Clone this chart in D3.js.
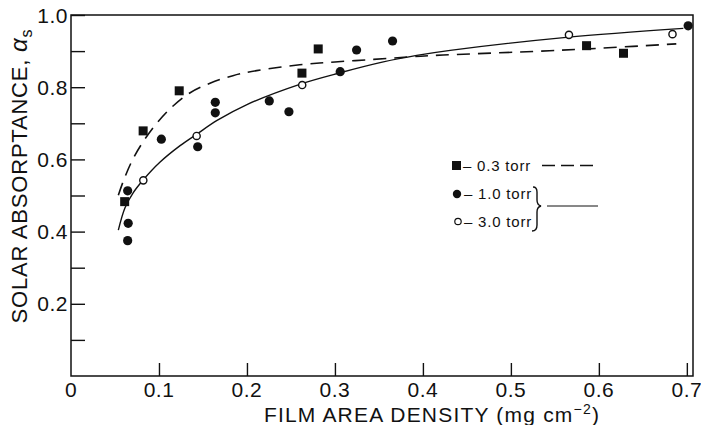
<!DOCTYPE html>
<html><head><meta charset="utf-8">
<script src="https://cdn.jsdelivr.net/npm/d3@7"></script>
<style>body{margin:0;background:#fff}svg{display:block}text{font-family:"Liberation Sans",Arial,sans-serif;fill:#111}</style>
</head><body><svg id="c" width="701" height="425"></svg>
<script>
// Data
const xTicks = [0, 0.1, 0.2, 0.3, 0.4, 0.5, 0.6, 0.7];
const xTickLabels = ["0", "0.1", "0.2", "0.3", "0.4", "0.5", "0.6", "0.7"];
const yTicks = [0.1, 0.2, 0.3, 0.4, 0.5, 0.6, 0.7, 0.8, 0.9, 1.0];
const yTickLabels = ["0.2", "0.4", "0.6", "0.8", "1.0"];
const yLabelValues = [0.2, 0.4, 0.6, 0.8, 1.0];

const torr03X = [0.061, 0.082, 0.123, 0.2625, 0.281, 0.586, 0.628];
const torr03Y = [0.483, 0.679, 0.790, 0.839, 0.906, 0.915, 0.894];
const torr10X = [0.0644, 0.065, 0.0644, 0.1027, 0.144, 0.164, 0.164, 0.2254, 0.2477, 0.306, 0.3246, 0.3655, 0.7015];
const torr10Y = [0.513, 0.423, 0.375, 0.656, 0.635, 0.758, 0.729, 0.762, 0.732, 0.843, 0.903, 0.928, 0.970];
const torr30X = [0.0822, 0.1428, 0.2628, 0.566, 0.6837];
const torr30Y = [0.542, 0.665, 0.806, 0.945, 0.947];

const dashCurveX = [0.0538, 0.0614, 0.0708, 0.082, 0.0974, 0.116, 0.135, 0.158, 0.184, 0.211, 0.26, 0.30, 0.344, 0.385, 0.423, 0.544, 0.601, 0.688];
const dashCurveY = [0.501, 0.552, 0.603, 0.649, 0.700, 0.748, 0.784, 0.811, 0.832, 0.846, 0.862, 0.870, 0.877, 0.884, 0.889, 0.901, 0.908, 0.920];
const solidCurveX = [0.0538, 0.0614, 0.0708, 0.082, 0.101, 0.124, 0.143, 0.166, 0.20, 0.26, 0.306, 0.355, 0.393, 0.431, 0.563, 0.696];
const solidCurveY = [0.404, 0.466, 0.508, 0.543, 0.592, 0.638, 0.670, 0.708, 0.752, 0.808, 0.840, 0.870, 0.888, 0.902, 0.938, 0.963];

const legendLabels = ["\u2013 0.3 torr", "\u2013 1.0 torr", "\u2013 3.0 torr"];

const svg = d3.select("#c");
const x = d3.scaleLinear().domain([0, 0.707]).range([71, 693]);
const y = d3.scaleLinear().domain([0, 1]).range([376, 15]);
const ink = "#111";

// frame
svg.append("path").attr("d", `M${x(0)},${y(1)}H${x(0.707)}V${y(0)}H${x(0)}Z`)
  .attr("fill", "none").attr("stroke", ink).attr("stroke-width", 1.5);

// y axis (inward ticks)
const yAxis = d3.axisRight(y).tickValues(yTicks).tickSize(14).tickFormat("");
const ya = svg.append("g").attr("transform", `translate(${x(0)},0)`).call(yAxis);
ya.select(".domain").remove();
ya.selectAll("line").attr("stroke", ink).attr("stroke-width", 1.4);
svg.append("g").selectAll("text").data(yLabelValues).join("text")
  .attr("x", 68).attr("y", d => y(d)).attr("dy", "0.36em").attr("text-anchor", "end")
  .attr("font-size", 21).attr("letter-spacing", 0.5).text((d, i) => yTickLabels[i]);

// x axis (inward ticks)
const xAxis = d3.axisTop(x).tickValues(xTicks.slice(1)).tickSize(13).tickFormat("");
const xa = svg.append("g").attr("transform", `translate(0,${y(0)})`).call(xAxis);
xa.select(".domain").remove();
xa.selectAll("line").attr("stroke", ink).attr("stroke-width", 1.4);
svg.append("g").selectAll("text").data(xTicks).join("text")
  .attr("x", d => x(d)).attr("y", 397).attr("text-anchor", "middle")
  .attr("font-size", 21).attr("letter-spacing", 0.5).text((d, i) => xTickLabels[i]);

// axis titles
const xt = svg.append("text").attr("x", 432).attr("y", 422).attr("text-anchor", "middle")
  .attr("font-size", 21).attr("letter-spacing", 1.2);
xt.append("tspan").text("FILM AREA DENSITY (mg cm");
xt.append("tspan").attr("dy", -8).attr("font-size", 14).text("\u22122");
xt.append("tspan").attr("dy", 8).text(")");

const yt = svg.append("text").attr("transform", "translate(27,176) rotate(-90)").attr("text-anchor", "middle")
  .attr("font-size", 22).attr("letter-spacing", 0.8);
yt.append("tspan").text("SOLAR ABSORPTANCE,  ");
yt.append("tspan").attr("font-style", "italic").attr("font-size", 24).text("\u03b1");
yt.append("tspan").attr("dy", 5).attr("font-size", 16).text("s");

// curves
const line = d3.line().curve(d3.curveCatmullRom.alpha(0.5));
svg.append("path").attr("d", line(dashCurveX.map((d, i) => [x(d), y(dashCurveY[i])])))
  .attr("fill", "none").attr("stroke", ink).attr("stroke-width", 1.6).attr("stroke-dasharray", "13,8");
svg.append("path").attr("d", line(solidCurveX.map((d, i) => [x(d), y(solidCurveY[i])])))
  .attr("fill", "none").attr("stroke", ink).attr("stroke-width", 1.4);

// markers
const sq = 9;
svg.append("g").selectAll("rect").data(torr03X).join("rect")
  .attr("x", d => x(d) - sq / 2).attr("y", (d, i) => y(torr03Y[i]) - sq / 2)
  .attr("width", sq).attr("height", sq).attr("fill", ink);
svg.append("g").selectAll("circle").data(torr10X).join("circle")
  .attr("cx", d => x(d)).attr("cy", (d, i) => y(torr10Y[i])).attr("r", 4.6).attr("fill", ink);
svg.append("g").selectAll("circle").data(torr30X).join("circle")
  .attr("cx", d => x(d)).attr("cy", (d, i) => y(torr30Y[i])).attr("r", 3.6)
  .attr("fill", "#fff").attr("stroke", ink).attr("stroke-width", 1.4);

// legend
const lg = svg.append("g");
lg.append("rect").attr("x", 452).attr("y", 161).attr("width", 9).attr("height", 9).attr("fill", ink);
lg.append("circle").attr("cx", 457).attr("cy", 194).attr("r", 4.2).attr("fill", ink);
lg.append("circle").attr("cx", 458).attr("cy", 221.5).attr("r", 3.2).attr("fill", "#fff").attr("stroke", ink).attr("stroke-width", 1.2);
lg.selectAll("text").data(legendLabels).join("text")
  .attr("x", (d, i) => i === 0 ? 463 : 464).attr("y", (d, i) => [170.5, 199, 227][i])
  .attr("font-size", 15).attr("letter-spacing", 0.8).text(d => d);
lg.append("line").attr("x1", 542).attr("x2", 596).attr("y1", 165.5).attr("y2", 165.5)
  .attr("stroke", ink).attr("stroke-width", 1.4).attr("stroke-dasharray", "13,6");
lg.append("line").attr("x1", 547).attr("x2", 598).attr("y1", 206).attr("y2", 206)
  .attr("stroke", ink).attr("stroke-width", 1);
lg.append("path")
  .attr("d", "M533,187 Q537,187 537,192 L537,200 Q537,205 541,206 Q537,207 537,212 L537,225 Q537,231 532,231")
  .attr("fill", "none").attr("stroke", ink).attr("stroke-width", 1.4);
</script></body></html>
